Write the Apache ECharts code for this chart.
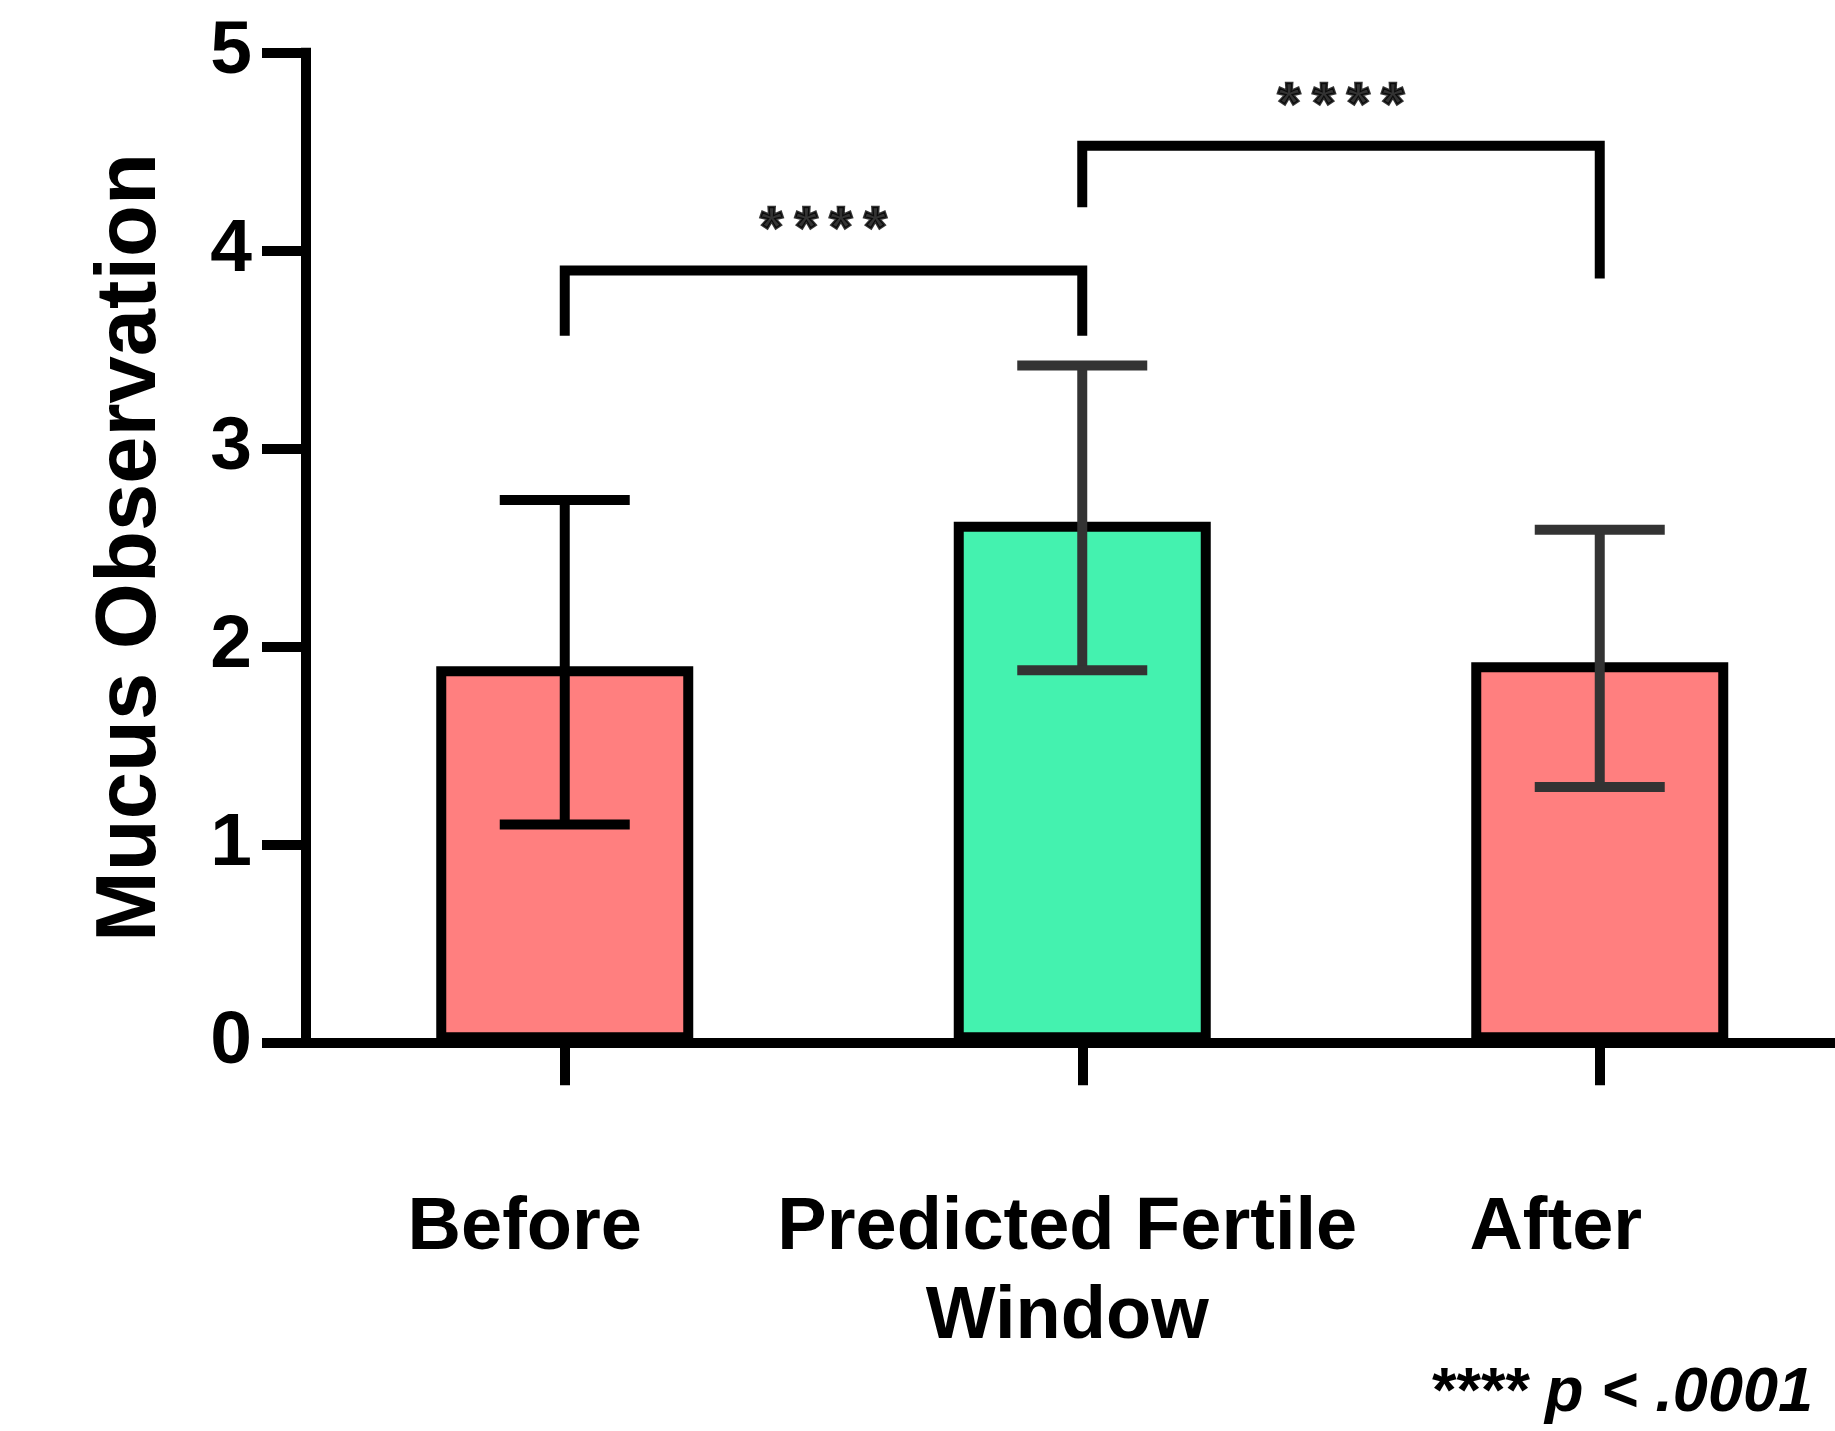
<!DOCTYPE html>
<html>
<head>
<meta charset="utf-8">
<script src="https://cdn.jsdelivr.net/npm/echarts@6/dist/echarts.min.js"></script>
<style>
html,body{margin:0;padding:0;background:#fff;}
#chart{width:1835px;height:1431px;}
</style>
</head>
<body>
<div id="chart"></div>
<script>
// ---- data ----
const categories = ['Before', 'Predicted Fertile\nWindow', 'After'];
const means = [1.90, 2.63, 1.92];
const errLow = [1.10, 1.88, 1.29];
const errHigh = [2.74, 3.42, 2.59];
const yMin = 0, yMax = 5, yStep = 1;
const bracket1 = [[0, 3.57], [0, 3.90], [1, 3.90], [1, 3.57]];
const bracket2 = [[1, 4.22], [1, 4.53], [2, 4.53], [2, 3.86]];
const starPositions = [[0.5, 4.10], [1.5, 4.725]];
const starText = '****';
const yTitle = 'Mucus Observation';
const noteText = '**** p < .0001';

// ---- styles ----
const FONT = '"Liberation Sans", Arial, Helvetica, sans-serif';
const barColors = ['#FF7F7F', '#44F2AF', '#FF7F7F'];
const errColors = ['#000000', '#333333', '#333333'];
const labelShift = [80, 30, 88];
const capHalf = 65;

const chart = echarts.init(document.getElementById('chart'), null, {renderer: 'canvas'});

const rich = {};
labelShift.forEach((s, i) => {
  rich['c' + i] = {fontSize: 74, fontWeight: 'bold', fontFamily: FONT, color: '#000', lineHeight: 89, padding: [0, s, 0, 0]};
});
const starRich = {s: {fontSize: 58, fontWeight: 'bold', fontFamily: FONT, color: '#000',
  textBorderColor: '#000', textBorderWidth: 2.5, padding: [0, 6, 0, 6]}};

const option = {
  animation: false,
  backgroundColor: '#fff',
  grid: {left: 306, top: 52.8, width: 1552.5, height: 989.5, containLabel: false, outerBoundsMode: 'none'},
  xAxis: [{
    type: 'category',
    data: categories,
    boundaryGap: true,
    axisLine: {show: true, lineStyle: {color: '#000', width: 10}},
    axisTick: {show: true, alignWithLabel: true, length: 43, lineStyle: {color: '#000', width: 10}},
    axisLabel: {
      interval: 0, margin: 142,
      formatter: (v, i) => v.split('\n').map(l => '{c' + i + '|' + l + '}').join('\n'),
      rich: rich
    },
    splitLine: {show: false}
  }, {
    type: 'value', min: -0.5, max: 2.5, show: false
  }],
  yAxis: {
    type: 'value', min: yMin, max: yMax, interval: yStep,
    name: yTitle, nameLocation: 'middle', nameGap: 132, nameRotate: 90,
    nameTextStyle: {fontSize: 85, fontWeight: 'bold', fontFamily: FONT, color: '#000'},
    axisLine: {show: true, onZero: false, lineStyle: {color: '#000', width: 10, cap: 'square'}},
    axisTick: {show: true, length: 44, lineStyle: {color: '#000', width: 10}},
    axisLabel: {fontSize: 75, fontWeight: 'bold', fontFamily: FONT, color: '#000', margin: 54},
    splitLine: {show: false}
  },
  series: [{
    type: 'bar',
    barWidth: 257,
    data: means.map((v, i) => ({value: v, itemStyle: {color: barColors[i]}})),
    itemStyle: {borderColor: '#000', borderWidth: 10},
    z: 2
  }, {
    type: 'custom',
    z: 3,
    data: categories.map((c, i) => [i, errLow[i], errHigh[i]]),
    encode: {x: 0, y: [1, 2]},
    renderItem: function (params, api) {
      const i = api.value(0);
      const pHi = api.coord([i, api.value(2)]);
      const pLo = api.coord([i, api.value(1)]);
      const st = {stroke: errColors[i], lineWidth: 10, lineCap: 'butt'};
      return {type: 'group', children: [
        {type: 'line', shape: {x1: pHi[0], y1: pHi[1], x2: pLo[0], y2: pLo[1]}, style: st},
        {type: 'line', shape: {x1: pHi[0] - capHalf, y1: pHi[1], x2: pHi[0] + capHalf, y2: pHi[1]}, style: st},
        {type: 'line', shape: {x1: pLo[0] - capHalf, y1: pLo[1], x2: pLo[0] + capHalf, y2: pLo[1]}, style: st}
      ]};
    }
  }, {
    type: 'line', xAxisIndex: 1, data: bracket1, symbol: 'none', z: 4,
    lineStyle: {color: '#000', width: 10, cap: 'butt', join: 'miter'}
  }, {
    type: 'line', xAxisIndex: 1, data: bracket2, symbol: 'none', z: 4,
    lineStyle: {color: '#000', width: 10, cap: 'butt', join: 'miter'}
  }, {
    type: 'scatter', xAxisIndex: 1, data: starPositions, symbolSize: 1, z: 5,
    itemStyle: {color: 'rgba(0,0,0,0)'},
    label: {show: true, position: 'inside', color: '#000',
      formatter: () => starText.split('').map(c => '{s|' + c + '}').join(''), rich: starRich}
  }],
  graphic: [{
    type: 'text', z: 10,
    style: {x: 1813, y: 1394, text: noteText, align: 'right', verticalAlign: 'middle',
      font: 'italic bold 63px ' + FONT, fill: '#000'}
  }]
};
chart.setOption(option);
</script>
</body>
</html>
